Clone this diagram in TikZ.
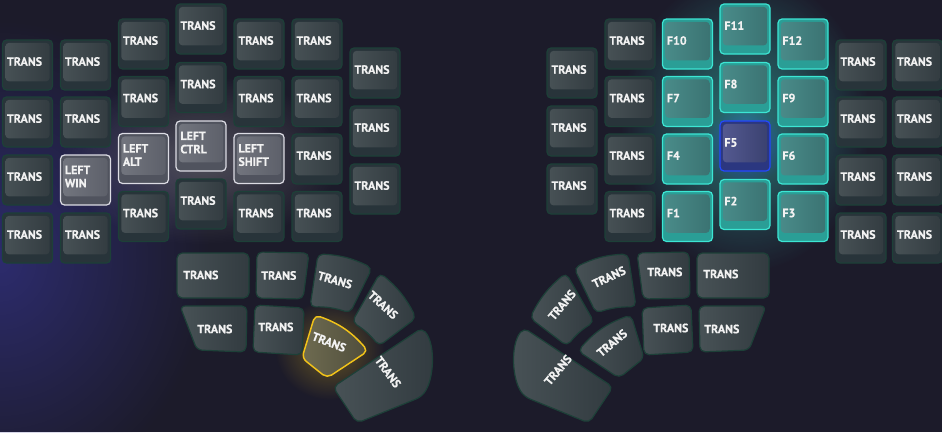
\documentclass[tikz,border=0pt]{standalone}
\usepackage{fontspec}
\setmainfont{PT Sans}[BoldFeatures={FakeBold=0.6}]
\usetikzlibrary{fadings}

\definecolor{bg}{HTML}{1C1B2A}
\definecolor{haze}{HTML}{34338A}
\definecolor{keyrim}{HTML}{1D4038}
\definecolor{keybase}{HTML}{28343A}
\definecolor{keyfaceL}{HTML}{485256}
\definecolor{keyfaceR}{HTML}{323B40}
\definecolor{modrim}{HTML}{DCDCE4}
\definecolor{modbase}{HTML}{50535E}
\definecolor{modfaceL}{HTML}{73767F}
\definecolor{modfaceR}{HTML}{5C5F69}
\definecolor{fnrim}{HTML}{3CE6D4}
\definecolor{fnbase}{HTML}{2A9E96}
\definecolor{fnfaceL}{HTML}{4A8C8A}
\definecolor{fnfaceR}{HTML}{3A7271}
\definecolor{selrim}{HTML}{2448FF}
\definecolor{selbase}{HTML}{2B3780}
\definecolor{selfaceL}{HTML}{555A92}
\definecolor{selfaceR}{HTML}{39406E}
\definecolor{yelrim}{HTML}{F2C319}
\definecolor{yelfaceL}{HTML}{6E6B50}
\definecolor{yelfaceR}{HTML}{4F4D3C}
\definecolor{captext}{HTML}{F2F2F2}

\tikzfading[name=glowfade, inner color=transparent!0, outer color=transparent!100]

\tikzset{
  capbox/.style n args={4}{rectangle, draw=#1, fill=#2, line width=0.9pt,
    rounded corners=3pt, minimum width=37.5pt, minimum height=37.5pt, inner sep=0pt,
    path picture={\shade[left color=#3, right color=#4, rounded corners=2.5pt]
      ([xshift=2.2pt,yshift=6.5pt]path picture bounding box.south west) rectangle
      ([xshift=-2.2pt,yshift=-2.2pt]path picture bounding box.north east);}},
  key/.style={capbox={keyrim}{keybase}{keyfaceL}{keyfaceR}},
  keymod/.style={capbox={modrim}{modbase}{modfaceL}{modfaceR}},
  keyfn/.style={capbox={fnrim}{fnbase}{fnfaceL}{fnfaceR}},
  keysel/.style={capbox={selrim}{selbase}{selfaceL}{selfaceR}},
  keytext/.style={anchor=west, align=left, inner sep=0pt, text=captext,
    font=\bfseries\fontsize{9}{10}\selectfont},
  thumb/.style={draw=keyrim, line width=0.9pt, rounded corners=4pt,
    left color=keyfaceL, right color=keyfaceR},
  thumbsel/.style={draw=yelrim, line width=1.1pt, rounded corners=4pt,
    left color=yelfaceL, right color=yelfaceR}
}

% key cap with its label in the upper left
\newcommand{\kcap}[4][key]{%
  \node[#1] (#2) at (#3) {};
  \node[keytext] (#2t) at ([xshift=3.6pt,yshift=2.6pt]#2.west) {#4};}

\begin{document}
\begin{tikzpicture}[x=0.75pt,y=-0.75pt]
  \useasboundingbox (0,0) rectangle (942,432);
  \fill[bg] (0,0) rectangle (942,432);
  % glows
  \fill[haze, path fading=glowfade, opacity=0.7] (0,260) ellipse (210 and 240);
  \fill[white, path fading=glowfade, opacity=0.22] (200,160) ellipse (140 and 85);
  \fill[fnrim, path fading=glowfade, opacity=0.45] (745,122) ellipse (125 and 150);
  \fill[selrim, path fading=glowfade, opacity=0.5] (745,146) ellipse (40 and 40);
  \fill[yelrim, path fading=glowfade, opacity=0.35] (330,350) ellipse (55 and 50);

  % left half
  \kcap{l00}{27.5,65}{TRANS}
  \kcap{l01}{27.5,122}{TRANS}
  \kcap{l02}{27.5,180}{TRANS}
  \kcap{l03}{27.5,238}{TRANS}
  \kcap{l10}{85.5,65}{TRANS}
  \kcap{l11}{85.5,122}{TRANS}
  \kcap[keymod]{l12}{85.5,180}{LEFT\\WIN}
  \kcap{l13}{85.5,238}{TRANS}
  \kcap{l20}{143.5,44}{TRANS}
  \kcap{l21}{143.5,101.5}{TRANS}
  \kcap[keymod]{l22}{143.5,158.5}{LEFT\\ALT}
  \kcap{l23}{143.5,216.5}{TRANS}
  \kcap{l30}{201,29}{TRANS}
  \kcap{l31}{201,87.5}{TRANS}
  \kcap[keymod]{l32}{201,146}{LEFT\\CTRL}
  \kcap{l33}{201,204}{TRANS}
  \kcap{l40}{259,44}{TRANS}
  \kcap{l41}{259,101.5}{TRANS}
  \kcap[keymod]{l42}{259,158.5}{LEFT\\SHIFT}
  \kcap{l43}{259,216.5}{TRANS}
  \kcap{l50}{317,44}{TRANS}
  \kcap{l51}{317,101.5}{TRANS}
  \kcap{l52}{317,159}{TRANS}
  \kcap{l53}{317,216.5}{TRANS}
  \kcap{l60}{375,73}{TRANS}
  \kcap{l61}{375,131}{TRANS}
  \kcap{l62}{375,189}{TRANS}

  % right half
  \kcap{r00}{572,73}{TRANS}
  \kcap{r01}{572,131}{TRANS}
  \kcap{r02}{572,189}{TRANS}
  \kcap{r10}{630,44}{TRANS}
  \kcap{r11}{630,101.5}{TRANS}
  \kcap{r12}{630,159}{TRANS}
  \kcap{r13}{630,216.5}{TRANS}
  \kcap[keyfn]{r20}{687.5,44}{F10}
  \kcap[keyfn]{r21}{687.5,101.5}{F7}
  \kcap[keyfn]{r22}{687.5,159}{F4}
  \kcap[keyfn]{r23}{687.5,216.5}{F1}
  \kcap[keyfn]{r30}{745,29}{F11}
  \kcap[keyfn]{r31}{745,87.5}{F8}
  \kcap[keysel]{r32}{745,146}{F5}
  \kcap[keyfn]{r33}{745,204.5}{F2}
  \kcap[keyfn]{r40}{803,44}{F12}
  \kcap[keyfn]{r41}{803,101.5}{F9}
  \kcap[keyfn]{r42}{803,159}{F6}
  \kcap[keyfn]{r43}{803,216.5}{F3}
  \kcap{r50}{861,65}{TRANS}
  \kcap{r51}{861,122}{TRANS}
  \kcap{r52}{861,180}{TRANS}
  \kcap{r53}{861,238}{TRANS}
  \kcap{r60}{917.5,65}{TRANS}
  \kcap{r61}{917.5,122}{TRANS}
  \kcap{r62}{917.5,180}{TRANS}
  \kcap{r63}{917.5,238}{TRANS}

  % left thumb cluster
  \draw[thumb] (177,253) rectangle (249,298);
  \draw[thumb] (257,252) -- (309,253) -- (303,299) -- (256,298) -- cycle;
  \draw[thumb] (318,254) to[bend left=12] (372,268) -- (350,313) to[bend right=10] (310,307) -- cycle;
  \draw[thumb] (380,273) to[bend left=12] (416,318) -- (379,346) to[bend right=10] (352,322) -- cycle;
  \draw[thumb] (180,306) -- (247,306) -- (246,352) -- (197,350) -- cycle;
  \draw[thumb] (255,305) -- (304,308) -- (302,355) -- (253,352) -- cycle;
  \draw[thumbsel] (315,315) to[bend left=15] (368,351) -- (327,378) -- (302,358) -- cycle;
  \draw[thumb] (333,387) -- (422,328) .. controls (436,345) and (434,380) .. (421,397) -- (357,423) -- cycle;
  \node[keytext] (lta) at (183,275) {TRANS};
  \node[keytext] (ltb) at (261,275.5) {TRANS};
  \node[keytext, anchor=center, rotate=-16] (ltc) at (335,280) {TRANS};
  \node[keytext, anchor=center, rotate=-42] (ltd) at (383,305) {TRANS};
  \node[keytext] (lte) at (197,329) {TRANS};
  \node[keytext] (ltf) at (258,327) {TRANS};
  \node[keytext, anchor=center, rotate=-21] (ltg) at (329,342) {TRANS};
  \node[keytext, anchor=center, rotate=-54] (lth) at (388,372) {TRANS};

  % right thumb cluster
  \draw[thumb] (697,253) rectangle (769,298);
  \draw[thumb] (689,252) -- (637,253) -- (643,299) -- (690,298) -- cycle;
  \draw[thumb] (628,254) to[bend right=12] (574,268) -- (596,313) to[bend left=10] (636,307) -- cycle;
  \draw[thumb] (566,273) to[bend right=12] (530,318) -- (567,346) to[bend left=10] (594,322) -- cycle;
  \draw[thumb] (766,306) -- (699,306) -- (700,352) -- (749,350) -- cycle;
  \draw[thumb] (691,305) -- (642,308) -- (644,355) -- (693,352) -- cycle;
  \draw[thumb] (631,315) to[bend right=15] (578,351) -- (619,378) -- (644,358) -- cycle;
  \draw[thumb] (613,387) -- (524,328) .. controls (510,345) and (512,380) .. (525,397) -- (589,423) -- cycle;
  \node[keytext] (rta) at (703,274) {TRANS};
  \node[keytext] (rtb) at (647,272) {TRANS};
  \node[keytext, anchor=center, rotate=25] (rtc) at (609,277) {TRANS};
  \node[keytext, anchor=center, rotate=50] (rtd) at (562,305) {TRANS};
  \node[keytext] (rte) at (704,329) {TRANS};
  \node[keytext] (rtf) at (653,328) {TRANS};
  \node[keytext, anchor=center, rotate=40] (rtg) at (612,343) {TRANS};
  \node[keytext, anchor=center, rotate=50] (rth) at (558,370) {TRANS};
\end{tikzpicture}
\end{document}
